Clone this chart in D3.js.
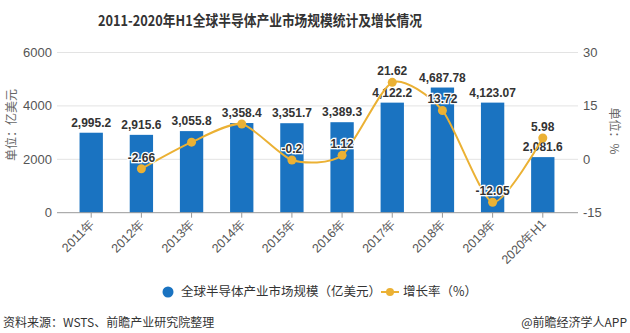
<!DOCTYPE html>
<html>
<head>
<meta charset="utf-8">
<script src="https://cdn.jsdelivr.net/npm/d3@7"></script>
<style>
  body { margin: 0; background: #fff; }
  svg { display: block; }
  text { font-family: "Noto Sans CJK SC", "Liberation Sans", sans-serif; }
</style>
</head>
<body>
<svg id="chart" width="630" height="333"></svg>
<script>
// Global semiconductor market size (100M USD) and yearly growth (%)
const years = ["2011年", "2012年", "2013年", "2014年", "2015年", "2016年", "2017年", "2018年", "2019年", "2020年H1"];
const marketSize = [2995.2, 2915.6, 3055.8, 3358.4, 3351.7, 3389.3, 4122.2, 4687.78, 4123.07, 2081.6];
const sizeLabels = ["2,995.2", "2,915.6", "3,055.8", "3,358.4", "3,351.7", "3,389.3", "4,122.2", "4,687.78", "4,123.07", "2,081.6"];
const growthRate = [null, -2.66, 4.81, 9.9, -0.2, 1.12, 21.62, 13.72, -12.05, 5.98];
const growthLabels = [null, "-2.66", null, null, "-0.2", "1.12", "21.62", "13.72", "-12.05", "5.98"];
const leftTicks = [0, 2000, 4000, 6000];
const rightTicks = [-15, 0, 15, 30];

const svg = d3.select("#chart");
const blue = "#1a73c1";
const gold = "#ebb134";
const narrow = '"Liberation Sans Narrow", "Liberation Sans", sans-serif';

const axisLeftX = 57, axisRightX = 578;
const x = d3.scaleBand().domain(years).range([66, 568]).paddingInner(0.535).paddingOuter(0.27);
const yL = d3.scaleLinear().domain([0, 6000]).range([212.7, 52.5]);
const yR = d3.scaleLinear().domain([-15, 30]).range([212.7, 52.5]);

// title
svg.append("text")
  .attr("x", 260).attr("y", 26)
  .attr("text-anchor", "middle")
  .attr("font-size", 15).attr("font-weight", "bold").attr("fill", "#333")
  .attr("textLength", 324).attr("lengthAdjust", "spacingAndGlyphs")
  .text("2011-2020年H1全球半导体产业市场规模统计及增长情况");

// gridlines
svg.append("g").selectAll("line").data(leftTicks.slice(1)).join("line")
  .attr("x1", axisLeftX).attr("x2", axisRightX)
  .attr("y1", d => yL(d)).attr("y2", d => yL(d))
  .attr("stroke", "#e3e3e3").attr("stroke-width", 1);

// left axis labels
svg.append("g").selectAll("text").data(leftTicks).join("text")
  .attr("x", 52).attr("y", d => yL(d)).attr("dy", "0.35em")
  .attr("text-anchor", "end").attr("font-size", 13).attr("fill", "#555")
  .style("font-family", narrow)
  .text(d => d);

// right axis labels
svg.append("g").selectAll("text").data(rightTicks).join("text")
  .attr("x", 583).attr("y", d => yR(d)).attr("dy", "0.35em")
  .attr("text-anchor", "start").attr("font-size", 13).attr("fill", "#555")
  .style("font-family", narrow)
  .text(d => d);

// axis titles
svg.append("text")
  .attr("transform", "translate(16,125) rotate(-90)")
  .attr("text-anchor", "middle").attr("font-size", 12).attr("fill", "#666")
  .text("单位：亿美元");
svg.append("text")
  .attr("transform", "translate(610,131) rotate(90)")
  .attr("text-anchor", "middle").attr("font-size", 12).attr("fill", "#666")
  .text("单位：%");

// bars
svg.append("g").selectAll("rect").data(years).join("rect")
  .attr("x", d => x(d)).attr("width", x.bandwidth())
  .attr("y", (d, i) => yL(marketSize[i]))
  .attr("height", (d, i) => yL(0) - yL(marketSize[i]))
  .attr("fill", blue);

// bottom axis
const xAxis = svg.append("g");
xAxis.append("line")
  .attr("x1", axisLeftX).attr("x2", axisRightX)
  .attr("y1", yL(0)).attr("y2", yL(0))
  .attr("stroke", "#999");
xAxis.selectAll("line.tick").data(years).join("line").attr("class", "tick")
  .attr("x1", d => x(d) + x.bandwidth() / 2).attr("x2", d => x(d) + x.bandwidth() / 2)
  .attr("y1", yL(0)).attr("y2", yL(0) + 5)
  .attr("stroke", "#999");
xAxis.selectAll("text").data(years).join("text")
  .attr("transform", d => `translate(${x(d) + x.bandwidth() / 2 + 4},${yL(0) + 12}) rotate(-45)`)
  .attr("text-anchor", "end").attr("font-size", 12.5).attr("fill", "#555")
  .style("font-family", narrow)
  .text(d => d);

// bar value labels
svg.append("g").selectAll("text").data(years).join("text")
  .attr("x", d => x(d) + x.bandwidth() / 2)
  .attr("y", (d, i) => yL(marketSize[i]) - 6)
  .attr("text-anchor", "middle").attr("font-size", 12).attr("font-weight", "bold")
  .attr("fill", "#333").style("font-family", '"Liberation Sans", sans-serif')
  .attr("stroke", "#fff").attr("stroke-width", 2).attr("paint-order", "stroke")
  .text((d, i) => sizeLabels[i]);

// growth line
const pts = years.map((d, i) => ({ x: x(d) + x.bandwidth() / 2, v: growthRate[i], label: growthLabels[i] }))
  .filter(p => p.v !== null);
const line = d3.line().x(p => p.x).y(p => yR(p.v)).curve(d3.curveCardinal.tension(0.3));
svg.append("path").datum(pts)
  .attr("d", line).attr("fill", "none").attr("stroke", gold).attr("stroke-width", 2);
svg.append("g").selectAll("circle").data(pts).join("circle")
  .attr("cx", p => p.x).attr("cy", p => yR(p.v)).attr("r", 4.5)
  .attr("fill", gold);
svg.append("g").selectAll("text").data(pts.filter(p => p.label)).join("text")
  .attr("x", p => p.x).attr("y", p => yR(p.v) - 7)
  .attr("text-anchor", "middle").attr("font-size", 12).attr("font-weight", "bold")
  .attr("fill", "#333").style("font-family", '"Liberation Sans", sans-serif')
  .attr("stroke", "#fff").attr("stroke-width", 2.5).attr("paint-order", "stroke")
  .text(p => p.label);

// legend
const lg = svg.append("g");
lg.append("circle").attr("cx", 168).attr("cy", 292).attr("r", 5.5).attr("fill", blue);
lg.append("text").attr("x", 181).attr("y", 292).attr("dy", "0.35em")
  .attr("font-size", 12.5).attr("fill", "#333").text("全球半导体产业市场规模（亿美元）");
lg.append("line").attr("x1", 381).attr("x2", 399).attr("y1", 292).attr("y2", 292)
  .attr("stroke", gold).attr("stroke-width", 2);
lg.append("circle").attr("cx", 390).attr("cy", 292).attr("r", 4).attr("fill", gold);
lg.append("text").attr("x", 403).attr("y", 292).attr("dy", "0.35em")
  .attr("font-size", 12.5).attr("fill", "#333").text("增长率（%）");

// footer
svg.append("text").attr("x", 3).attr("y", 327)
  .attr("font-size", 12).attr("fill", "#333").text("资料来源：WSTS、前瞻产业研究院整理");
svg.append("text").attr("x", 627).attr("y", 327).attr("text-anchor", "end")
  .attr("font-size", 12).attr("fill", "#333").text("@前瞻经济学人APP");
</script>
</body>
</html>
